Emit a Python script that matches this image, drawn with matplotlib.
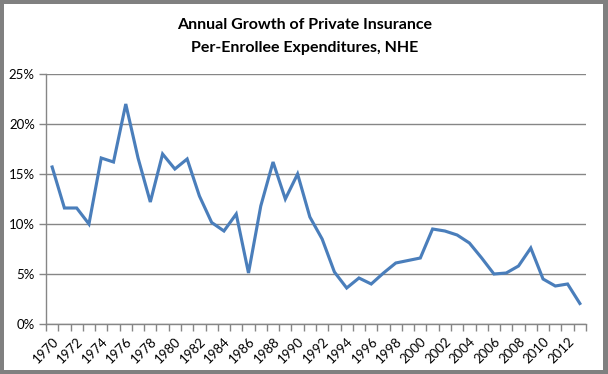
import matplotlib.pyplot as plt
from matplotlib.patches import Rectangle
from matplotlib.ticker import FuncFormatter

# 数据：1970-2013 年私人保险人均支出年增长率（%）
years = list(range(1970, 2014))
growth = [15.7, 11.6, 11.6, 10.0, 16.6, 16.2, 22.0, 16.6, 12.2, 17.0,
          15.5, 16.5, 12.8, 10.15, 9.3, 11.0, 5.1, 11.8, 16.2, 12.5,
          15.0, 10.7, 8.5, 5.2, 3.6, 4.6, 4.0, 5.1, 6.1, 6.35,
          6.6, 9.5, 9.3, 8.9, 8.1, 6.6, 5.0, 5.1, 5.8, 7.6,
          4.5, 3.8, 4.0, 2.05]
title_lines = ["Annual Growth of Private Insurance", "Per-Enrollee Expenditures, NHE"]

plt.rcParams['font.family'] = ['Lato', 'DejaVu Sans']

W, H = 608, 374
fig = plt.figure(figsize=(W / 100, H / 100), dpi=100)
fig.patch.set_facecolor('#808080')
# 白色图表区（外面一圈灰色边框），放在最底层
fig.patches.append(Rectangle((4 / W, 4 / H), (W - 9) / W, (H - 8) / H,
                             transform=fig.transFigure, facecolor='white',
                             edgecolor='none', zorder=-10))

ax = fig.add_axes([46 / W, 1 - 324 / H, 540 / W, 250 / H])
ax.set_facecolor('none')
ax.set_zorder(1)

x = list(range(len(years)))
ax.plot(x, growth, color='#4A7EBB', linewidth=2.25, solid_joinstyle='miter', zorder=3)

ax.set_xlim(-0.5, len(years) - 0.5)
ax.set_ylim(0, 25)
ax.set_yticks([0, 5, 10, 15, 20, 25])
ax.yaxis.set_major_formatter(FuncFormatter(lambda v, p: f"{v:.0f}%"))
ax.grid(axis='y', color='#868686', linewidth=1)
ax.set_axisbelow(True)

# x 轴：刻度线在类别边界，标签每两年一个
ax.set_xticks([i for i in x if i % 2 == 0])
ax.set_xticklabels([str(years[i]) for i in x if i % 2 == 0], rotation=45,
                   ha='right', rotation_mode='anchor')
ax.set_xticks([i - 0.5 for i in x] + [len(years) - 0.5], minor=True)
ax.tick_params(axis='x', which='major', length=0, pad=8, labelsize=9.5)
ax.tick_params(axis='x', which='minor', length=5, color='#868686', width=1)
ax.tick_params(axis='y', length=5, color='#868686', width=1, labelsize=9.5, pad=3)

for s in ['top', 'right']:
    ax.spines[s].set_visible(False)
for s in ['left', 'bottom']:
    ax.spines[s].set_color('#868686')
    ax.spines[s].set_linewidth(1)

fig.text(305 / W, 1 - 25 / H, title_lines[0], ha='center', va='center',
         fontsize=11.5, fontweight='bold')
fig.text(305 / W, 1 - 48 / H, title_lines[1], ha='center', va='center',
         fontsize=11.5, fontweight='bold')

fig.savefig('out.png', dpi=100, facecolor=fig.get_facecolor())
